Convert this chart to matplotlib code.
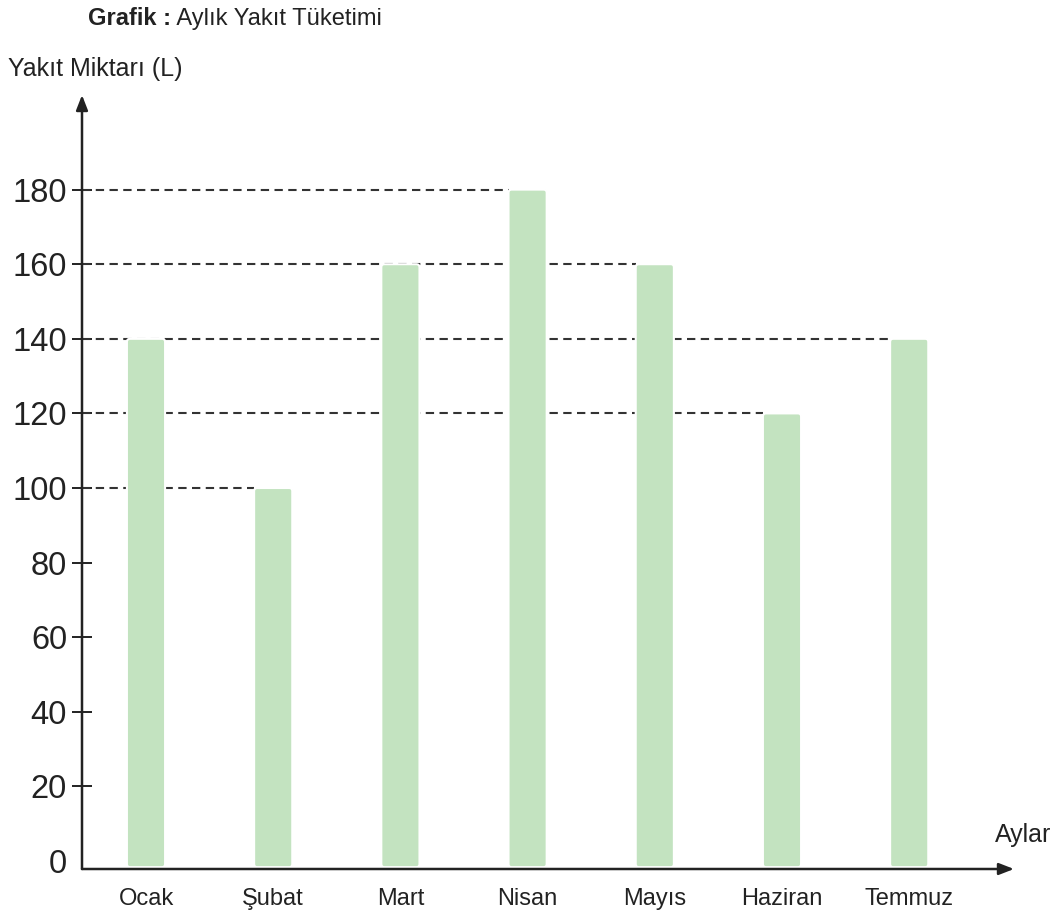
import matplotlib
matplotlib.use("Agg")
import matplotlib.pyplot as plt
from matplotlib.patches import FancyBboxPatch

months = ["Ocak", "Şubat", "Mart", "Nisan", "Mayıs", "Haziran", "Temmuz"]
fuel = [140, 100, 160, 180, 160, 120, 140]
yticks = [0, 20, 40, 60, 80, 100, 120, 140, 160, 180]
title_bold = "Grafik :"
title_rest = " Aylık Yakıt Tüketimi"
ylabel = "Yakıt Miktarı (L)"
xlabel = "Aylar"

plt.rcParams['font.family'] = ['Liberation Sans', 'DejaVu Sans']

W, H = 1057, 916
fig = plt.figure(figsize=(W / 100, H / 100), dpi=100)
x0_px, x1_px, y0_px, y1_px = 82, 1014, 869, 95
zero_px = 861
px_per20 = 74.6
ax = fig.add_axes([x0_px / W, (H - y0_px) / H, (x1_px - x0_px) / W, (y0_px - y1_px) / H])

step_px = 127.2
first_px = 146
ax.set_xlim((x0_px - first_px) / step_px, (x1_px - first_px) / step_px)
ax.set_ylim(-(y0_px - zero_px) / px_per20 * 20, (zero_px - y1_px) / px_per20 * 20)

for s in ax.spines.values():
    s.set_visible(False)

xl = ax.get_xlim(); yl = ax.get_ylim()
bar_w = 0.30
base = yl[0] + 0.5
bars = ax.bar(range(len(months)), [f - base for f in fuel], bottom=base, width=bar_w,
              color='#c3e3c0', edgecolor='none', zorder=3)
asp = ((yl[1] - yl[0]) / (y0_px - y1_px)) / ((xl[1] - xl[0]) / (x1_px - x0_px))
for b in bars:
    b.set_visible(False)
    p = FancyBboxPatch((b.get_x(), b.get_y()), b.get_width(), b.get_height(),
                       boxstyle="round,pad=0,rounding_size=0.025",
                       mutation_aspect=asp, facecolor='#c3e3c0',
                       edgecolor='white', linewidth=1.5, zorder=3)
    ax.add_patch(p)

# dashed guide lines up to the right-most bar with each value
for v in sorted(set(fuel)):
    idx = max(i for i, f in enumerate(fuel) if f == v)
    xend = idx - bar_w / 2
    ax.plot([xl[0], xend], [v, v], linestyle=(0, (4, 2.6)), color='#333333',
            linewidth=1.5, zorder=2)

ax.set_xticks(range(len(months)))
ax.set_xticklabels(months, fontsize=17, color='#222222')
ax.tick_params(axis='x', length=0, pad=14)
ax.set_yticks(yticks)
ax.set_yticklabels([str(t) for t in yticks], fontsize=23.5, color='#222222')
ax.tick_params(axis='y', direction='inout', length=14.5, width=1.4,
               color='#222222', pad=3.5)
ax.yaxis.get_major_ticks()[0].tick1line.set_visible(False)

# axes arrows
ax.annotate('', xy=(xl[0], yl[1]), xytext=(xl[0], yl[0]),
            arrowprops=dict(arrowstyle='-|>,head_length=0.9,head_width=0.35',
                            color='#222222', lw=1.8, shrinkA=0, shrinkB=0),
            annotation_clip=False)
ax.annotate('', xy=(xl[1], yl[0]), xytext=(xl[0], yl[0]),
            arrowprops=dict(arrowstyle='-|>,head_length=0.9,head_width=0.35',
                            color='#222222', lw=1.8, shrinkA=0, shrinkB=0),
            annotation_clip=False)

# labels
fig.text(8 / W, 1 - 76 / H, ylabel, fontsize=18, color='#222222', va='baseline')
fig.text(1051 / W, 1 - 842 / H, xlabel, fontsize=18, color='#222222',
         va='baseline', ha='right')
t1 = fig.text(88 / W, 1 - 25 / H, title_bold, fontsize=17, fontweight='bold',
              color='#222222', va='baseline')
r = fig.canvas.get_renderer()
bb = t1.get_window_extent(renderer=r)
fig.text(bb.x1 / W, 1 - 25 / H, title_rest, fontsize=17, color='#222222',
         va='baseline')

fig.savefig("out.png", dpi=100)
